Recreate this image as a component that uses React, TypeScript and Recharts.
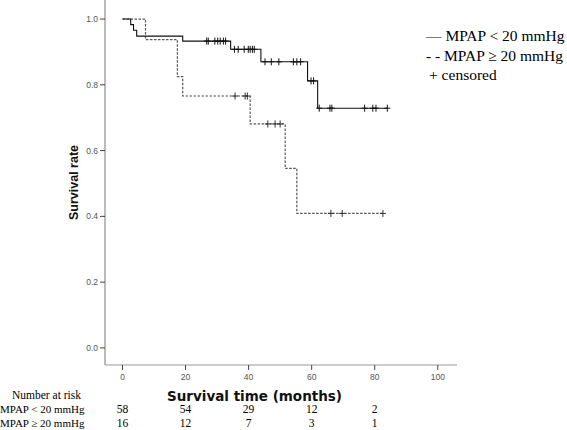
import { ComposedChart, Line, XAxis, YAxis } from "recharts";

// Kaplan-Meier steps (months, survival after the event)
const lowTimes = [0, 2.6, 3.5, 4.5, 19.1, 34.3, 43.9, 58.7, 61.9];
const lowSurv = [1, 0.983, 0.966, 0.948, 0.933, 0.908, 0.87, 0.812, 0.729];
const lowCensored = [
  26.7, 27.2, 29.3, 30.2, 31.0, 32.0, 32.7, 35.5, 36.7, 38.6, 39.9, 40.5, 41.2,
  41.8, 45.2, 47.2, 49.6, 54.2, 55.3, 56.5, 59.8, 60.6, 62.4, 65.8, 66.4, 76.8,
  79.4, 80.4, 84.0,
];

const highTimes = [0, 7.3, 17.4, 19.1, 40.5, 51.6, 55.3];
const highSurv = [1, 0.9375, 0.825, 0.766, 0.681, 0.546, 0.409];
const highCensored = [35.7, 38.9, 39.6, 46.1, 48.4, 50.0, 66.1, 69.7, 82.6];

const xTicks = [0, 20, 40, 60, 80, 100];
const yTicks = [0, 0.2, 0.4, 0.6, 0.8, 1.0];

// number at risk, one entry per tick from 0 to 80
const riskLow = [58, 54, 29, 12, 2];
const riskHigh = [16, 12, 7, 3, 1];

const X_DOMAIN: [number, number] = [-5.55, 106.1];

type Pt = { t: number; s: number; c: boolean };

function buildCurve(times: number[], surv: number[], censored: number[]): Pt[] {
  const pts: Pt[] = times.map((t, i) => ({ t, s: surv[i], c: false }));
  censored.forEach((t) => {
    let s = surv[0];
    times.forEach((et, i) => {
      if (et <= t) s = surv[i];
    });
    pts.push({ t, s, c: true });
  });
  return pts.sort((a, b) => a.t - b.t);
}

const lowCurve = buildCurve(lowTimes, lowSurv, lowCensored);
const highCurve = buildCurve(highTimes, highSurv, highCensored);

const censorMark = (color: string) => (props: any) => {
  const { cx, cy, payload, index } = props;
  if (!payload || !payload.c) return <g key={`n-${index}`} />;
  return (
    <path
      key={`c-${index}`}
      d={`M${cx - 3},${cy}H${cx + 3}M${cx},${cy - 3.5}V${cy + 3.5}`}
      stroke={color}
      strokeWidth={1}
      fill="none"
    />
  );
};

const sans = "Liberation Sans, Arial, sans-serif";
const serif = "Liberation Serif, Times New Roman, serif";

// x tick: the month label, plus the two number-at-risk rows below it
function MonthTick(props: any) {
  const { x, y, payload, index } = props;
  return (
    <g>
      <text x={x} y={y + 6} textAnchor="middle" fontFamily={sans} fontSize={8.5} fill="#555">
        {payload.value}
      </text>
      {index < riskLow.length && (
        <text x={x} y={y + 39} textAnchor="middle" fontFamily={serif} fontSize={11.5} fill="#000">
          {riskLow[index]}
        </text>
      )}
      {index < riskHigh.length && (
        <text x={x} y={y + 53} textAnchor="middle" fontFamily={serif} fontSize={11.5} fill="#000">
          {riskHigh[index]}
        </text>
      )}
    </g>
  );
}

export default function App() {
  return (
    <div style={{ position: "absolute", left: 0, top: 0, width: 567, height: 430, background: "#fff" }}>
      <ComposedChart width={567} height={430} margin={{ top: 0, right: 110, left: 41, bottom: 0 }}>
        <XAxis
          dataKey="t"
          type="number"
          domain={X_DOMAIN}
          allowDataOverflow
          ticks={xTicks}
          height={65}
          tickSize={5}
          tickMargin={4}
          tick={<MonthTick />}
          axisLine={{ stroke: "#999" }}
          tickLine={{ stroke: "#444" }}
          label={(p: any) => (
            <text
              x={p.viewBox.x + p.viewBox.width / 2 - 26.5}
              y={p.viewBox.y + 36}
              textAnchor="middle"
              fontFamily="DejaVu Sans, Verdana, sans-serif"
              fontWeight="bold"
              fontSize={13.5}
              fill="#111"
            >
              Survival time (months)
            </text>
          )}
        />
        <YAxis
          type="number"
          domain={[-0.052, 1.058]}
          allowDataOverflow
          ticks={yTicks}
          width={64}
          tickSize={5}
          tickMargin={2}
          tick={{ fontFamily: sans, fontSize: 8.5, fill: "#555" }}
          tickFormatter={(v: number) => v.toFixed(1)}
          axisLine={{ stroke: "#777" }}
          tickLine={{ stroke: "#444" }}
          label={(p: any) => {
            const x = p.viewBox.x + 37;
            const y = p.viewBox.y + p.viewBox.height / 2;
            return (
              <text
                x={x}
                y={y}
                transform={`rotate(-90, ${x}, ${y})`}
                textAnchor="middle"
                fontFamily={sans}
                fontWeight="bold"
                fontSize={12.5}
                fill="#111"
              >
                Survival rate
              </text>
            );
          }}
        />
        <Line
          data={highCurve}
          dataKey="s"
          type="stepAfter"
          stroke="#555"
          strokeWidth={1.2}
          strokeDasharray="2.5 1.5"
          dot={censorMark("#333")}
          activeDot={false}
          isAnimationActive={false}
        />
        <Line
          data={lowCurve}
          dataKey="s"
          type="stepAfter"
          stroke="#111"
          strokeWidth={1.1}
          dot={censorMark("#111")}
          activeDot={false}
          isAnimationActive={false}
        />
      </ComposedChart>
      <svg
        width={567}
        height={430}
        style={{ position: "absolute", left: 0, top: 0, pointerEvents: "none" }}
        fontFamily={serif}
        fill="#000"
      >
        <text x={426} y={41} fontSize={15.5}>— MPAP &lt; 20 mmHg</text>
        <text x={426} y={61} fontSize={15.5}>- - MPAP ≥ 20 mmHg</text>
        <text x={429} y={80} fontSize={15.5}>+ censored</text>
        <text x={12} y={399} fontSize={11.5}>Number at risk</text>
        <text x={0} y={413} fontSize={11}>MPAP &lt; 20 mmHg</text>
        <text x={0} y={427} fontSize={11}>MPAP ≥ 20 mmHg</text>
      </svg>
    </div>
  );
}
